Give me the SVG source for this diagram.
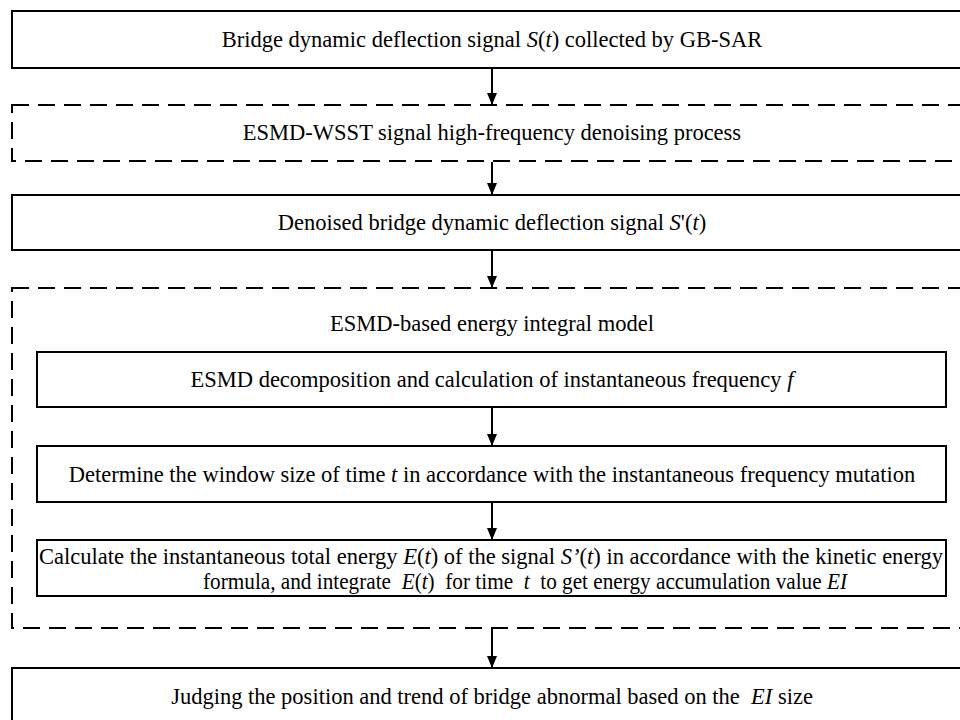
<svg xmlns="http://www.w3.org/2000/svg" width="960" height="720" viewBox="0 0 960 720">
<style>
.box{fill:#fff;stroke:#000;stroke-width:2}
.dash{fill:none;stroke:#000;stroke-width:2;stroke-dasharray:17 9}
.t{font-family:"Liberation Serif","Times New Roman","DejaVu Serif",serif;font-size:22.5px;fill:#000}
.m{text-anchor:middle}
.i{font-style:italic}
.conn{stroke:#000;stroke-width:2;fill:none;marker-end:url(#ah)}
</style>
<defs>
<marker id="ah" markerUnits="userSpaceOnUse" markerWidth="12" markerHeight="12" refX="12" refY="6" orient="auto">
<path d="M0,1 L12,6 L0,11 z" fill="#000"/>
</marker>
</defs>
<rect width="960" height="720" fill="#fff"/>
<g id="connectors">
<line class="conn" x1="492" y1="69" x2="492" y2="105"/>
<line class="conn" x1="492" y1="162" x2="492" y2="195"/>
<line class="conn" x1="492" y1="251" x2="492" y2="288"/>
<line class="conn" x1="492" y1="408" x2="492" y2="446"/>
<line class="conn" x1="492" y1="503" x2="492" y2="540"/>
<line class="conn" x1="492" y1="629" x2="492" y2="668"/>
</g>
<g id="n1">
<rect class="box" x="12" y="11" width="962" height="57"/>
<text class="t m" x="492" y="47">Bridge dynamic deflection signal <tspan class="i">S</tspan>(<tspan class="i">t</tspan>) collected by GB-SAR</text>
</g>
<g id="n2">
<rect class="dash" x="12" y="105" width="962" height="56"/>
<text class="t m" x="492" y="140">ESMD-WSST signal high-frequency denoising process</text>
</g>
<g id="n3">
<rect class="box" x="12" y="195" width="962" height="55"/>
<text class="t m" x="492" y="230">Denoised bridge dynamic deflection signal <tspan class="i">S</tspan>'(<tspan class="i">t</tspan>)</text>
</g>
<g id="n4">
<rect class="dash" x="12" y="288" width="962" height="340"/>
<text class="t m" x="492" y="331">ESMD-based energy integral model</text>
</g>
<g id="n5">
<rect class="box" x="37" y="352" width="909" height="55"/>
<text class="t m" x="492" y="387">ESMD decomposition and calculation of instantaneous frequency  <tspan class="i">f</tspan></text>
</g>
<g id="n6">
<rect class="box" x="37" y="446" width="909" height="56"/>
<text class="t m" x="492" y="482">Determine the window size of time <tspan class="i">t</tspan> in accordance with the instantaneous frequency mutation</text>
</g>
<g id="n7">
<rect class="box" x="37" y="540" width="909" height="56"/>
<text class="t" x="39" y="564" textLength="904" lengthAdjust="spacingAndGlyphs">Calculate the instantaneous total energy <tspan class="i">E</tspan>(<tspan class="i">t</tspan>) of the signal <tspan class="i">S’</tspan>(<tspan class="i">t</tspan>) in accordance with the kinetic energy</text>
<text class="t" x="203" y="589" xml:space="preserve" textLength="644" lengthAdjust="spacingAndGlyphs">formula, and integrate  <tspan class="i">E</tspan>(<tspan class="i">t</tspan>)  for time  <tspan class="i">t</tspan>  to get energy accumulation value <tspan class="i">EI</tspan></text>
</g>
<g id="n8">
<rect class="box" x="12" y="668" width="962" height="70"/>
<text class="t m" x="492" y="704" xml:space="preserve">Judging the position and trend of bridge abnormal based on the  <tspan class="i">EI</tspan> size</text>
</g>
</svg>
